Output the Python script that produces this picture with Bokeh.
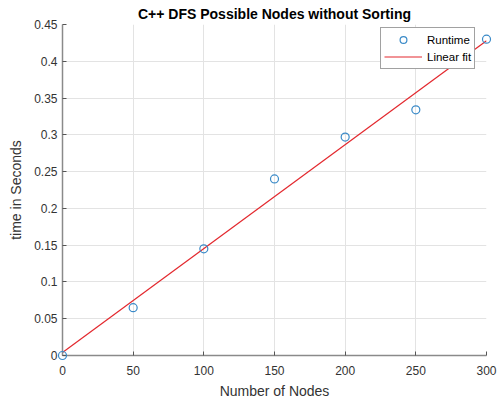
from bokeh.plotting import figure
from bokeh.models import Range1d, FixedTicker, Legend, LegendItem
from bokeh.embed import file_html
from bokeh.resources import INLINE

nodes = [0, 50, 100, 150, 200, 250, 300]
runtime = [0.0, 0.065, 0.145, 0.24, 0.297, 0.334, 0.43]
fit_x = [0, 300]
fit_y = [0.004, 0.428]
x_ticks = [0, 50, 100, 150, 200, 250, 300]
y_ticks = [0, 0.05, 0.1, 0.15, 0.2, 0.25, 0.3, 0.35, 0.4, 0.45]

FONT = "Liberation Sans"

p = figure(width=500, height=401, output_backend="svg", toolbar_location=None,
           x_range=Range1d(0, 300), y_range=Range1d(0, 0.45),
           min_border_left=62, min_border_right=14, min_border_top=24, min_border_bottom=45)
p.title.text = "C++ DFS Possible Nodes without Sorting"
p.title.align = "center"
p.title.text_font = FONT
p.title.text_font_size = "14px"
p.title.text_font_style = "bold"
p.title.text_color = "#000000"
p.title.offset = 0
p.title.standoff = 5
p.outline_line_color = None

for ax in (p.xaxis[0], p.yaxis[0]):
    ax.axis_line_color = "#8a8a8a"
    ax.axis_line_width = 1.5
    ax.major_tick_line_color = "#555555"
    ax.major_tick_in = 4
    ax.major_tick_out = 0
    ax.minor_tick_line_color = None
    ax.major_label_text_font = FONT
    ax.major_label_text_font_size = "12px"
    ax.major_label_text_color = "#333333"
    ax.axis_label_text_font = FONT
    ax.axis_label_text_font_size = "14px"
    ax.axis_label_text_font_style = "normal"
    ax.axis_label_text_color = "#333333"

p.xaxis.ticker = FixedTicker(ticks=x_ticks)
p.yaxis.ticker = FixedTicker(ticks=y_ticks)
p.xaxis.major_label_overrides = {0: "0"}
p.yaxis.major_label_overrides = {0: "0", 0.05: "0.05", 0.1: "0.1", 0.15: "0.15", 0.2: "0.2",
                                 0.25: "0.25", 0.3: "0.3", 0.35: "0.35", 0.4: "0.4", 0.45: "0.45"}
p.xaxis.axis_label = "Number of Nodes"
p.yaxis.axis_label = "time in Seconds"
p.xaxis.major_label_standoff = 10
p.yaxis.major_label_standoff = 5
p.xaxis.axis_label_standoff = 5
p.yaxis.axis_label_standoff = 7

p.grid.grid_line_color = "#e3e3e3"
p.grid.grid_line_width = 1

r_pts = p.scatter(nodes, runtime, marker="circle", size=8, fill_color=None,
                  line_color="#3a8ac8", line_width=1.2, level="overlay")
r_fit = p.line(fit_x, fit_y, line_color="#e3282e", line_width=1.2)

legend = Legend(items=[LegendItem(label="Runtime", renderers=[r_pts]),
                       LegendItem(label="Linear fit", renderers=[r_fit])],
                location=(318, 286))
legend.label_text_font = FONT
legend.label_text_font_size = "11.5px"
legend.label_text_color = "#000000"
legend.border_line_color = "#444444"
legend.border_line_width = 1
legend.padding = 3
legend.spacing = 0
legend.glyph_width = 38
legend.glyph_height = 17
legend.label_height = 17
legend.label_standoff = 5
legend.margin = 0
legend.background_fill_alpha = 1
p.add_layout(legend)

open("out.html", "w").write(file_html(p, INLINE))
